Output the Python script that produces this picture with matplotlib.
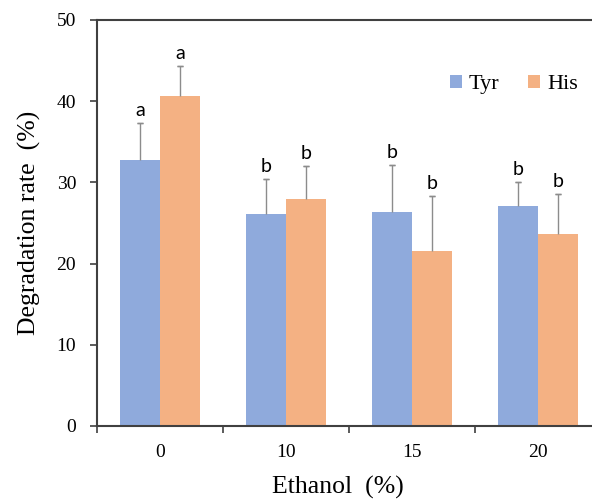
import matplotlib
matplotlib.use("Agg")
import matplotlib.pyplot as plt
import numpy as np

# data
ethanol = ["0", "10", "15", "20"]
tyr_mean = [32.8, 26.1, 26.4, 27.1]
tyr_err = [4.5, 4.3, 5.7, 2.9]
his_mean = [40.7, 27.9, 21.6, 23.7]
his_err = [3.6, 4.1, 6.7, 4.9]
tyr_letters = ["a", "b", "b", "b"]
his_letters = ["a", "b", "b", "b"]

blue = "#8FAADC"
orange = "#F4B183"
err_col = "#8c8c8c"
serif = "Liberation Serif"

fig = plt.figure(figsize=(5.92, 4.99), dpi=100)
ax = fig.add_axes([97 / 592, 1 - 426 / 499, 504 / 592, 406 / 499])

x = np.arange(len(ethanol))
w = 0.32

series = [(x - w / 2, tyr_mean, tyr_err, tyr_letters, blue, "Tyr"),
          (x + w / 2, his_mean, his_err, his_letters, orange, "His")]

for xs, mean, err, letters, col, name in series:
    mean = np.array(mean)
    err = np.array(err)
    ax.bar(xs, mean, w, color=col, label=name)
    # upper-only error bar: stem + cap at the top
    ax.vlines(xs, mean, mean + err, color=err_col, lw=1.0)
    ax.errorbar(xs, mean + err, yerr=np.zeros(len(xs)), fmt="none",
                ecolor=err_col, capsize=2.5, capthick=1.0, elinewidth=0)
    # significance letters
    for xi, top, t in zip(xs, mean + err, letters):
        ax.annotate(t, (xi, top), xytext=(0, 3), textcoords="offset points",
                    ha="center", va="bottom", fontsize=14, family="Lato")

ax.set_xlim(-0.5, 3.5)
ax.set_ylim(0, 50)
ax.set_yticks([0, 10, 20, 30, 40, 50])
ax.set_xticks(x)
ax.set_xticklabels(ethanol)
ax.set_xticks(np.arange(-0.5, 4, 1), minor=True)
ax.tick_params(axis="x", which="major", length=0, pad=13)
ax.tick_params(axis="x", which="minor", length=5, width=1.2, color="#404040", direction="out")
ax.tick_params(axis="y", length=5, width=1.2, color="#404040", direction="out", pad=10)
for lab in ax.get_xticklabels() + ax.get_yticklabels():
    lab.set_family(serif)
    lab.set_fontsize(14)

for side in ["left", "bottom", "top"]:
    ax.spines[side].set_color("#404040")
    ax.spines[side].set_linewidth(1.5)
ax.spines["right"].set_visible(False)

ax.set_ylabel("Degradation rate  (%)", family=serif, fontsize=18.5)
ax.yaxis.set_label_coords(-0.112, 0.5)
ax.set_xlabel("Ethanol  (%)", family=serif, fontsize=18.5)
ax.xaxis.set_label_coords((338 - 97) / 504, -0.122)

leg = ax.legend(loc="upper left", bbox_to_anchor=(0.66, 0.915), ncol=2, frameon=False,
                prop={"family": serif, "size": 16}, handlelength=0.55, handleheight=0.55,
                handletextpad=0.3, columnspacing=1.3)

fig.savefig("out.png", dpi=100)
